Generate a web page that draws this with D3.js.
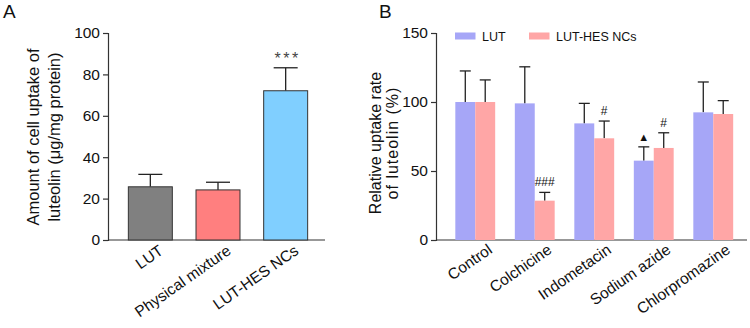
<html>
  <head>
    <script src="https://d3js.org/d3.v7.min.js"></script>
    <style>
      body {
        margin: 0;
        background: #fff;
      }
      text {
        font-family: "Liberation Sans", Arial, sans-serif;
        fill: #111;
      }
      .axis path,
      .axis line {
        stroke: #333;
        stroke-width: 1.2;
      }
    </style>
  </head>
  <body>
    <svg id="fig" width="750" height="328"></svg>
    <script>
      // panel A data
      const groupsA = ["LUT", "Physical mixture", "LUT-HES NCs"];
      const valuesA = [25.7, 24.2, 72.1];
      const errorsA = [6.0, 3.7, 11.1];
      const colorsA = ["#808080", "#ff7f7f", "#80cfff"];
      const ticksA = [0, 20, 40, 60, 80, 100];

      // panel B data
      const groupsB = ["Control", "Colchicine", "Indometacin", "Sodium azide", "Chlorpromazine"];
      const seriesB = ["LUT", "LUT-HES NCs"];
      const lutB = [100, 99, 84.5, 57.5, 92.5];
      const lutErrB = [22.5, 26.5, 14.5, 10, 22];
      const hesB = [100, 28.5, 73.7, 66.7, 91.3];
      const hesErrB = [16, 6, 12.5, 11, 9.7];
      const colorsB = ["#a6a6f7", "#ffa6a6"];
      const ticksB = [0, 50, 100, 150];
      // marks above bars: [group, series, symbol]
      const marksB = [
        ["Colchicine", "LUT-HES NCs", "###"],
        ["Indometacin", "LUT-HES NCs", "#"],
        ["Sodium azide", "LUT", "▲"],
        ["Sodium azide", "LUT-HES NCs", "#"],
      ];

      const svg = d3.select("svg#fig");

      // ---------- Panel A ----------
      const yA = d3.scaleLinear().domain([0, 100]).range([240, 33]);
      const xA = d3
        .scaleBand()
        .domain(groupsA)
        .range([116.5, 319.5])
        .paddingInner(0.35)
        .paddingOuter(0.175);

      svg.append("text").attr("x", 3).attr("y", 18).style("font-size", "19px").text("A");

      const gA = svg.append("g");

      gA.append("g")
        .attr("class", "axis")
        .attr("transform", "translate(108,0)")
        .call(d3.axisLeft(yA).tickValues(ticksA).tickSize(5).tickPadding(3))
        .call((g) => g.selectAll("text").style("font-size", "15.5px"));

      gA.append("line")
        .attr("x1", 108)
        .attr("x2", 325)
        .attr("y1", yA(0))
        .attr("y2", yA(0))
        .attr("stroke", "#333")
        .attr("stroke-width", 1.2);

      const dataA = groupsA.map((g, i) => ({ g: g, v: valuesA[i], e: errorsA[i], c: colorsA[i] }));

      // error bars first so the bar covers the lower half
      gA.selectAll("line.errA")
        .data(dataA)
        .join("line")
        .attr("class", "errA")
        .attr("x1", (d) => xA(d.g) + xA.bandwidth() / 2)
        .attr("x2", (d) => xA(d.g) + xA.bandwidth() / 2)
        .attr("y1", (d) => yA(d.v))
        .attr("y2", (d) => yA(d.v + d.e))
        .attr("stroke", "#222")
        .attr("stroke-width", 1.3);

      gA.selectAll("line.capA")
        .data(dataA)
        .join("line")
        .attr("class", "capA")
        .attr("x1", (d) => xA(d.g) + xA.bandwidth() / 2 - 12)
        .attr("x2", (d) => xA(d.g) + xA.bandwidth() / 2 + 12)
        .attr("y1", (d) => yA(d.v + d.e))
        .attr("y2", (d) => yA(d.v + d.e))
        .attr("stroke", "#222")
        .attr("stroke-width", 1.3);

      gA.selectAll("rect.barA")
        .data(dataA)
        .join("rect")
        .attr("class", "barA")
        .attr("x", (d) => xA(d.g))
        .attr("y", (d) => yA(d.v))
        .attr("width", xA.bandwidth())
        .attr("height", (d) => yA(0) - yA(d.v))
        .attr("fill", (d) => d.c)
        .attr("stroke", "#333")
        .attr("stroke-width", 1);

      // significance stars
      gA.append("text")
        .attr("x", xA("LUT-HES NCs") + xA.bandwidth() / 2 + 2)
        .attr("y", yA(valuesA[2] + errorsA[2]) - 4)
        .attr("text-anchor", "middle")
        .style("font-size", "16px")
        .style("letter-spacing", "2.5px")
        .style("fill", "#444")
        .text("***");

      // x labels
      gA.selectAll("text.xlabA")
        .data(groupsA)
        .join("text")
        .attr("class", "xlabA")
        .attr("text-anchor", "end")
        .attr("transform", (d) => `translate(${xA(d) + xA.bandwidth() / 2 + 14},${253}) rotate(-35)`)
        .style("font-size", "15.5px")
        .text((d) => d);

      // y label
      const ylabA = gA.append("text")
        .attr("transform", "translate(0,137) rotate(-90)")
        .attr("text-anchor", "middle")
        .style("font-size", "16.5px");
      ylabA.append("tspan").attr("x", 0).attr("y", 39).text("Amount of cell uptake of");
      ylabA.append("tspan").attr("x", 0).attr("y", 60).text("luteolin (μg/mg protein)");

      // ---------- Panel B ----------
      const yB = d3.scaleLinear().domain([0, 150]).range([240, 33]);
      const xB = d3
        .scaleBand()
        .domain(groupsB)
        .range([445.5, 743])
        .paddingInner(0.33)
        .paddingOuter(0.165);
      const x1B = d3.scaleBand().domain(seriesB).range([0, xB.bandwidth()]);

      svg.append("text").attr("x", 379).attr("y", 18).style("font-size", "19px").text("B");

      const gB = svg.append("g");

      gB.append("g")
        .attr("class", "axis")
        .attr("transform", "translate(436,0)")
        .call(d3.axisLeft(yB).tickValues(ticksB).tickSize(5).tickPadding(3))
        .call((g) => g.selectAll("text").style("font-size", "15.5px"));

      gB.append("line")
        .attr("x1", 436)
        .attr("x2", 747)
        .attr("y1", yB(0))
        .attr("y2", yB(0))
        .attr("stroke", "#333")
        .attr("stroke-width", 1.2);

      const dataB = [];
      groupsB.forEach((g, i) => {
        dataB.push({ g: g, s: seriesB[0], v: lutB[i], e: lutErrB[i], c: colorsB[0] });
        dataB.push({ g: g, s: seriesB[1], v: hesB[i], e: hesErrB[i], c: colorsB[1] });
      });
      const cx = (d) => xB(d.g) + x1B(d.s) + x1B.bandwidth() / 2;

      gB.selectAll("line.errB")
        .data(dataB)
        .join("line")
        .attr("class", "errB")
        .attr("x1", cx)
        .attr("x2", cx)
        .attr("y1", (d) => yB(d.v))
        .attr("y2", (d) => yB(d.v + d.e))
        .attr("stroke", "#222")
        .attr("stroke-width", 1.3);

      gB.selectAll("line.capB")
        .data(dataB)
        .join("line")
        .attr("class", "capB")
        .attr("x1", (d) => cx(d) - 5.5)
        .attr("x2", (d) => cx(d) + 5.5)
        .attr("y1", (d) => yB(d.v + d.e))
        .attr("y2", (d) => yB(d.v + d.e))
        .attr("stroke", "#222")
        .attr("stroke-width", 1.3);

      gB.selectAll("rect.barB")
        .data(dataB)
        .join("rect")
        .attr("class", "barB")
        .attr("x", (d) => xB(d.g) + x1B(d.s))
        .attr("y", (d) => yB(d.v))
        .attr("width", x1B.bandwidth())
        .attr("height", (d) => yB(0) - yB(d.v))
        .attr("fill", (d) => d.c);

      // significance marks
      gB.selectAll("text.markB")
        .data(marksB)
        .join("text")
        .attr("class", "markB")
        .attr("text-anchor", "middle")
        .attr("x", (m) => xB(m[0]) + x1B(m[1]) + x1B.bandwidth() / 2)
        .attr("y", (m) => {
          const d = dataB.find((o) => o.g === m[0] && o.s === m[1]);
          return yB(d.v + d.e) - 6;
        })
        .style("font-size", (m) => (m[2] === "▲" ? "11px" : "12px"))
        .text((m) => m[2]);

      // legend
      const legB = gB.append("g");
      const legX = [455, 529];
      seriesB.forEach((s, i) => {
        legB.append("rect")
          .attr("x", legX[i])
          .attr("y", 32.5)
          .attr("width", 20.5)
          .attr("height", 7)
          .attr("fill", colorsB[i]);
        legB.append("text")
          .attr("x", legX[i] + 27)
          .attr("y", 40.5)
          .style("font-size", "12.5px")
          .text(s);
      });

      // x labels
      gB.selectAll("text.xlabB")
        .data(groupsB)
        .join("text")
        .attr("class", "xlabB")
        .attr("text-anchor", "end")
        .attr("transform", (d) => `translate(${xB(d) + xB.bandwidth() / 2 + 18},${252}) rotate(-35)`)
        .style("font-size", "15.5px")
        .text((d) => d);

      // y label
      const ylabB = gB.append("text")
        .attr("transform", "translate(0,143) rotate(-90)")
        .attr("text-anchor", "middle")
        .style("font-size", "16px");
      ylabB.append("tspan").attr("x", 0).attr("y", 381).text("Relative uptake rate");
      ylabB.append("tspan").attr("x", 0).attr("y", 398).style("letter-spacing", "1px").text("of luteolin (%)");
    </script>
  </body>
</html>
